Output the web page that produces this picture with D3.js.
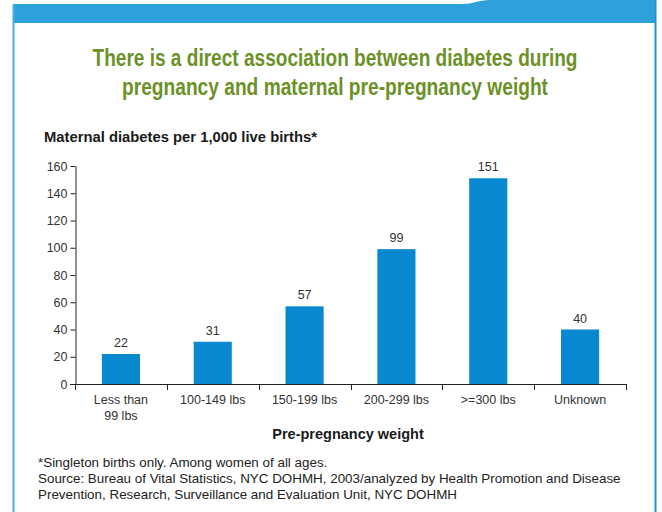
<!DOCTYPE html>
<html>
<head>
<meta charset="utf-8">
<script src="https://cdn.jsdelivr.net/npm/d3@7"></script>
<style>
  html, body { margin: 0; padding: 0; background: #fff; }
  svg { display: block; }
  text { font-family: "Liberation Sans", Arial, Helvetica, sans-serif; }
</style>
</head>
<body>
<svg id="chart" width="662" height="512"></svg>
<script>
// Maternal diabetes rate per 1,000 live births by pre-pregnancy weight
const categories = ["Less than|99 lbs", "100-149 lbs", "150-199 lbs", "200-299 lbs", ">=300 lbs", "Unknown"];
const values = [22, 31, 57, 99, 151, 40];
const yTicks = [0, 20, 40, 60, 80, 100, 120, 140, 160];
const titleLines = [
  "There is a direct association between diabetes during",
  "pregnancy and maternal pre-pregnancy weight"
];
const footnotes = [
  "*Singleton births only. Among women of all ages.",
  "Source: Bureau of Vital Statistics, NYC DOHMH, 2003/analyzed by Health Promotion and Disease",
  "Prevention, Research, Surveillance and Evaluation Unit, NYC DOHMH"
];

const svg = d3.select("#chart");

// Frame: blue header tab with side borders
svg.append("path")
  .attr("d", "M13,4 H462 C474,4 478,0 490,0 H656 V23 H13 Z")
  .attr("fill", "#2ea0da");
svg.append("line").attr("x1", 13.5).attr("x2", 13.5).attr("y1", 4).attr("y2", 512)
  .attr("stroke", "#4aaee2").attr("stroke-width", 2);
svg.append("line").attr("x1", 655.5).attr("x2", 655.5).attr("y1", 0).attr("y2", 512)
  .attr("stroke", "#1d93da").attr("stroke-width", 2);

// Title (condensed bold look via textLength)
svg.append("g").selectAll("text").data(titleLines).join("text")
  .attr("x", 335).attr("y", (d, i) => 66 + i * 29)
  .attr("text-anchor", "middle")
  .attr("fill", "#6b9127")
  .attr("font-size", 23).attr("font-weight", "bold")
  .attr("textLength", (d, i) => i === 0 ? 485 : 426)
  .attr("lengthAdjust", "spacingAndGlyphs")
  .text(d => d);

// Axis title (y)
svg.append("text")
  .attr("x", 44).attr("y", 142)
  .attr("font-size", 15).attr("font-weight", "bold").attr("fill", "#1a1a1a")
  .attr("textLength", 273).attr("lengthAdjust", "spacingAndGlyphs")
  .text("Maternal diabetes per 1,000 live births*");

const x = d3.scaleBand().domain(categories).range([75, 626]).paddingInner(0.585).paddingOuter(0.2925);
const xAxisScale = d3.scaleBand().domain(categories).range([75, 626]);
const y = d3.scaleLinear().domain([0, 160]).range([384, 166]);

// Y axis
const yAxis = svg.append("g").attr("transform", "translate(75.5,0)")
  .call(d3.axisLeft(y).tickValues(yTicks).tickSize(5).tickPadding(3).tickSizeOuter(0));
yAxis.select(".domain").attr("stroke", "#222");
yAxis.selectAll(".tick line").attr("stroke", "#222");
yAxis.selectAll(".tick text").attr("font-size", 12.5).attr("fill", "#333")
  .attr("font-family", "Liberation Sans, Arial, sans-serif");

// X axis: baseline with ticks at band boundaries
const xg = svg.append("g");
xg.append("line").attr("x1", 70).attr("x2", 626).attr("y1", 384.5).attr("y2", 384.5).attr("stroke", "#222");
const bounds = categories.map(c => xAxisScale(c)).concat([626]);
xg.selectAll("line.tk").data(bounds).join("line").attr("class", "tk")
  .attr("x1", d => Math.round(d) + 0.5).attr("x2", d => Math.round(d) + 0.5)
  .attr("y1", 384).attr("y2", 390).attr("stroke", "#222");

// Category labels
const lab = svg.append("g").selectAll("text").data(categories).join("text")
  .attr("x", d => xAxisScale(d) + xAxisScale.bandwidth() / 2)
  .attr("y", 404)
  .attr("text-anchor", "middle").attr("font-size", 12.5).attr("fill", "#333");
lab.each(function(d) {
  const parts = d.split("|");
  d3.select(this).selectAll("tspan").data(parts).join("tspan")
    .attr("x", xAxisScale(d) + xAxisScale.bandwidth() / 2)
    .attr("dy", (p, i) => i === 0 ? 0 : 16)
    .text(p => p);
});

// Bars
svg.append("g").selectAll("rect").data(values).join("rect")
  .attr("x", (d, i) => x(categories[i]))
  .attr("width", x.bandwidth())
  .attr("y", d => y(d))
  .attr("height", d => y(0) - y(d))
  .attr("fill", "#0788d0");

// Value labels
svg.append("g").selectAll("text").data(values).join("text")
  .attr("x", (d, i) => x(categories[i]) + x.bandwidth() / 2)
  .attr("y", d => y(d) - 7)
  .attr("text-anchor", "middle").attr("font-size", 12.5).attr("fill", "#333")
  .text(d => d);

// X axis title
svg.append("text")
  .attr("x", 348).attr("y", 439)
  .attr("text-anchor", "middle").attr("font-size", 14.5).attr("font-weight", "bold").attr("fill", "#1a1a1a")
  .text("Pre-pregnancy weight");

// Footnotes
svg.append("g").selectAll("text").data(footnotes).join("text")
  .attr("x", 38).attr("y", (d, i) => 467 + i * 16)
  .attr("font-size", 13.4).attr("fill", "#222")
  .text(d => d);
</script>
</body>
</html>
